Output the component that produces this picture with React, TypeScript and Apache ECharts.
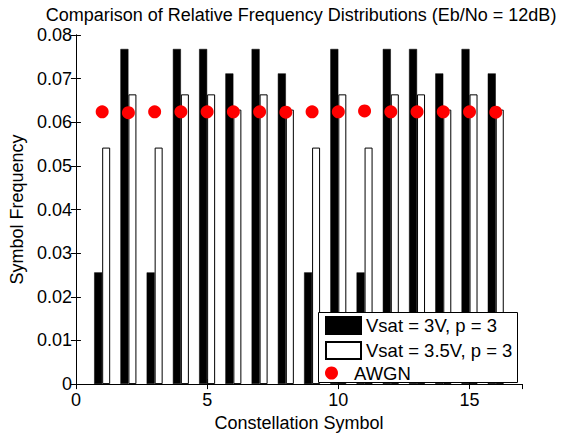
import React, { useEffect, useRef } from "react";
import * as echarts from "echarts";

const symbols = [1, 2, 3, 4, 5, 6, 7, 8, 9, 10, 11, 12, 13, 14, 15, 16];
const vsat3 = [0.0256, 0.0768, 0.0256, 0.0768, 0.0768, 0.0712, 0.0768, 0.0712, 0.0256, 0.0768, 0.0256, 0.0768, 0.0768, 0.0712, 0.0768, 0.0712];
const vsat35 = [0.0542, 0.0664, 0.0542, 0.0664, 0.0664, 0.0629, 0.0664, 0.0629, 0.0542, 0.0664, 0.0542, 0.0664, 0.0664, 0.0629, 0.0664, 0.0629];
const awgn = [0.0624, 0.0622, 0.0624, 0.0624, 0.0624, 0.0624, 0.0624, 0.0623, 0.0624, 0.0624, 0.0626, 0.0624, 0.0624, 0.0624, 0.0624, 0.0623];
const names = ["Vsat = 3V, p = 3", "Vsat = 3.5V, p = 3", "AWGN"];
const titleText = "Comparison of Relative Frequency Distributions (Eb/No = 12dB)";

const FONT = "Liberation Sans";

export default function App() {
  const ref = useRef<HTMLDivElement>(null);
  useEffect(() => {
    document.body.style.margin = "0";
    const chart = echarts.init(ref.current!, undefined, { renderer: "svg" });
    const axisCommon = {
      axisLine: { show: true, lineStyle: { color: "#000", width: 1 } },
      axisTick: { show: true, inside: true, length: 5, lineStyle: { color: "#000" } },
      splitLine: { show: false },
    };
    chart.setOption({
      animation: false,
      backgroundColor: "#fff",
      textStyle: { fontFamily: FONT },
      title: {
        text: titleText,
        left: 296,
        top: 1,
        textAlign: "center",
        textStyle: { fontFamily: FONT, fontSize: 18, fontWeight: "normal", color: "#000" },
      },
      grid: { left: 73, right: 45, top: 35, bottom: 49 },
      xAxis: [
        {
          type: "value",
          min: 0,
          max: 17,
          interval: 5,
          position: "bottom",
          name: "Constellation Symbol",
          nameLocation: "middle",
          nameGap: 22,
          nameTextStyle: { fontFamily: FONT, fontSize: 18, color: "#000" },
          axisLabel: { fontFamily: FONT, fontSize: 18, color: "#000", margin: 7, showMaxLabel: false },
          ...axisCommon,
        },
        {
          type: "value",
          min: 0,
          max: 17,
          interval: 5,
          position: "top",
          axisLabel: { show: false },
          ...axisCommon,
        },
      ],
      yAxis: [
        {
          type: "value",
          min: 0,
          max: 0.08,
          interval: 0.01,
          position: "left",
          name: "Symbol Frequency",
          nameLocation: "middle",
          nameRotate: 90,
          nameGap: 46,
          nameTextStyle: { fontFamily: FONT, fontSize: 18, color: "#000" },
          axisLabel: {
            fontFamily: FONT,
            fontSize: 18,
            color: "#000",
            margin: 4,
            formatter: (v: number) => (v === 0 ? "0" : v.toFixed(2)),
          },
          ...axisCommon,
        },
        {
          type: "value",
          min: 0,
          max: 0.08,
          interval: 0.01,
          position: "right",
          axisLabel: { show: false },
          ...axisCommon,
        },
      ],
      legend: [
        {
          data: [
            { name: names[0], icon: "rect" },
            { name: names[1], icon: "rect" },
          ],
          orient: "vertical",
          left: 325,
          top: 316,
          padding: 0,
          itemWidth: 35,
          itemHeight: 17,
          itemGap: 6,
          selectedMode: false,
          z: 10,
          textStyle: { fontFamily: FONT, fontSize: 18.5, color: "#000", lineHeight: 17 },
        },
        {
          data: [{ name: names[2], icon: "circle" }],
          orient: "vertical",
          left: 325,
          top: 363.5,
          padding: 0,
          itemWidth: 35,
          itemHeight: 13,
          selectedMode: false,
          z: 10,
          textStyle: { fontFamily: FONT, fontSize: 18.5, color: "#000", lineHeight: 13 },
        },
      ],
      graphic: [
        {
          type: "rect",
          z: 5,
          shape: { x: 318.5, y: 312.5, width: 199, height: 70 },
          style: { fill: "#fff", stroke: "#000", lineWidth: 1 },
        },
      ],
      series: [
        {
          name: names[0],
          type: "bar",
          xAxisIndex: 0,
          yAxisIndex: 0,
          barWidth: 8,
          barGap: "0%",
          itemStyle: { color: "#000", borderColor: "#000", borderWidth: 0.5 },
          data: symbols.map((s, i) => [s, vsat3[i]]),
        },
        {
          name: names[1],
          type: "bar",
          xAxisIndex: 0,
          yAxisIndex: 0,
          barWidth: 8,
          barGap: "0%",
          itemStyle: { color: "#fff", borderColor: "#000", borderWidth: 1 },
          data: symbols.map((s, i) => [s, vsat35[i]]),
        },
        {
          name: names[2],
          type: "scatter",
          xAxisIndex: 0,
          yAxisIndex: 0,
          symbol: "circle",
          symbolSize: 13,
          itemStyle: { color: "#ff0000", opacity: 1 },
          data: symbols.map((s, i) => [s, awgn[i]]),
        },
      ],
    });
    return () => chart.dispose();
  }, []);
  return <div ref={ref} style={{ width: 567, height: 437 }} />;
}
